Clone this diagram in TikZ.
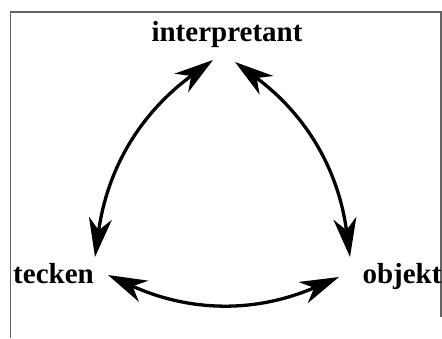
\documentclass[tikz,border=0pt]{standalone}
\usepackage{fontspec}
\setmainfont{Liberation Serif}
\usepackage{tikz}
\usetikzlibrary{arrows.meta}
\definecolor{framegray}{RGB}{100,100,100}
\tikzset{
	word/.style={font=\bfseries\fontsize{29}{34}\selectfont,inner sep=0pt,anchor=base},
	relarrow/.style={line width=3.3pt,{Stealth[length=39pt,width=23pt,inset=12pt]}-{Stealth[length=39pt,width=23pt,inset=12pt]}}
}

\begin{document}
\begin{tikzpicture}[x=1pt,y=-1pt]
	\useasboundingbox (0,0) rectangle (442,338);
	\draw[framegray,line width=1.2pt] (10.5,338) -- (10.5,12) -- (441,12) -- (441,317);
	\node[word] (interp) at (227,41) {interpretant};
	\node[word] (tecken) at (53.5,283) {tecken};
	\node[word] (objekt) at (402,283) {objekt};
	\draw[relarrow] ([shift={(41.5,-26)}]tecken.base) to[bend left=23] ([shift={(-14,19)}]interp.base);
	\draw[relarrow] ([shift={(8,21)}]interp.base) to[bend left=23] ([shift={(-52,-26)}]objekt.base);
	\draw[relarrow] ([shift={(-63,-6)}]objekt.base) to[bend left=24] ([shift={(54.5,-8)}]tecken.base);
\end{tikzpicture}
\end{document}
